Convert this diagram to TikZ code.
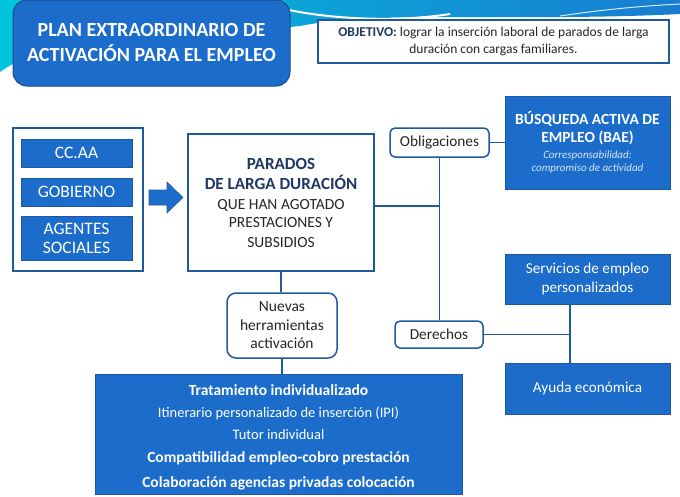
\documentclass[tikz,border=0pt]{standalone}
\usepackage{fontspec}
\setmainfont{Carlito}
\definecolor{boxblue}{HTML}{1C6DCB}
\definecolor{boxedge}{HTML}{2157A0}
\definecolor{linkblue}{HTML}{1F5A9E}
\definecolor{navy}{HTML}{1F3864}
\definecolor{darktxt}{HTML}{262626}
\definecolor{paletxt}{HTML}{D6E4F5}
\definecolor{swcyan}{HTML}{00C4DC}
\tikzset{
  bluebox/.style={draw=boxedge, line width=1pt, fill=boxblue, text=white, align=center, inner sep=0pt},
  whitebox/.style={draw=linkblue, line width=1.5pt, fill=white, align=center, inner sep=0pt},
  pill/.style={draw=linkblue, line width=1.5pt, fill=white, rounded corners=5pt, align=center, inner sep=0pt, text=darktxt},
  link/.style={draw=linkblue, line width=1.8pt}
}
\begin{document}
\begin{tikzpicture}[x=1pt,y=-1pt]
\useasboundingbox (0,0) rectangle (680,496);
% decorative swoosh
\shade[left color=swcyan, right color=boxblue!90!cyan] (0,0) -- (680,0) -- (680,14)
  .. controls (520,22) and (380,10) .. (300,26) .. controls (160,40) and (50,35) .. (0,72) -- cycle;
\draw[white, line width=2pt] (280,8) .. controls (330,20) and (400,22) .. (450,14);
\draw[white!80!cyan, line width=1pt] (560,16) .. controls (600,10) and (640,6) .. (680,4);

% title
\node[bluebox, draw=boxedge!85!black, rounded corners=14pt, minimum width=277, minimum height=86, font=\fontsize{20}{25}\selectfont\bfseries] (title) at (151.5,43) {PLAN EXTRAORDINARIO DE\\ACTIVACIÓN PARA EL EMPLEO};
% objective
\node[whitebox, line width=1.2pt, minimum width=351, minimum height=43, text=darktxt, font=\fontsize{13.5}{17}\selectfont] (obj) at (493.5,41.5) {\textcolor{navy}{\bfseries OBJETIVO:} lograr la inserción laboral de parados de larga\\duración con cargas familiares.};

% left group
\node[whitebox, minimum width=130, minimum height=143] (group) at (78,199.5) {};
\node[bluebox, minimum width=111, minimum height=28, font=\fontsize{17.5}{20}\selectfont] (ccaa) at (76.5,153) {CC.AA};
\node[bluebox, minimum width=111, minimum height=28, font=\fontsize{17.5}{20}\selectfont] (gob) at (76.5,192) {GOBIERNO};
\node[bluebox, minimum width=111, minimum height=44, font=\fontsize{17.5}{19}\selectfont] (agentes) at (76.5,238) {AGENTES\\SOCIALES};

% arrow
\fill[boxblue, draw=boxedge, line width=0.6pt] (149,190) -- (167,190) -- (167,182) -- (183,197.5) -- (167,213) -- (167,205) -- (149,205) -- cycle;

% parados
\node[whitebox, minimum width=186, minimum height=137, text=darktxt, font=\fontsize{15.5}{19.5}\selectfont] (parados) at (281,202.5)
  {{\fontsize{17}{20}\selectfont\bfseries\textcolor{navy}{PARADOS}}\\[1pt]
   {\fontsize{17}{20}\selectfont\bfseries\textcolor{navy}{DE LARGA DURACIÓN}}\\
   QUE HAN AGOTADO\\[-1pt]PRESTACIONES Y\\SUBSIDIOS};

% obligaciones / derechos
\node[pill, minimum width=99, minimum height=29, font=\fontsize{15.3}{17}\selectfont] (oblig) at (439.5,142.5) {Obligaciones};
\node[pill, minimum width=88, minimum height=27, font=\fontsize{15.3}{17}\selectfont] (derechos) at (439,334.5) {Derechos};

% BAE
\node[bluebox, minimum width=165, minimum height=93, font=\fontsize{15.5}{18}\selectfont] (bae) at (587.5,142.5)
  {{\bfseries BÚSQUEDA ACTIVA DE}\\
   {\bfseries EMPLEO (BAE)}\\[-2pt]
   {\fontsize{11}{13}\selectfont\itshape\color{paletxt} Corresponsabilidad:}\\[-5pt]
   {\fontsize{11}{13}\selectfont\itshape\color{paletxt} compromiso de actividad}};

% servicios / ayuda
\node[bluebox, minimum width=165, minimum height=50, font=\fontsize{15.2}{18.5}\selectfont] (serv) at (587.5,279) {Servicios de empleo\\personalizados};
\node[bluebox, minimum width=165, minimum height=51, font=\fontsize{15.2}{18}\selectfont] (ayuda) at (587.5,388.5) {Ayuda económica};

% nuevas
\node[pill, rounded corners=9pt, minimum width=110, minimum height=65, font=\fontsize{15.5}{18.5}\selectfont] (nuevas) at (282,325.5) {Nuevas\\herramientas\\activación};

% bottom box
\node[bluebox, minimum width=367, minimum height=120, font=\fontsize{15.5}{23}\selectfont] (tools) at (278.5,434)
  {\rule{0pt}{18pt}{\bfseries Tratamiento individualizado}\\[-1pt]
   {\fontsize{14.5}{23}\selectfont Itinerario personalizado de inserción (IPI)}\\[-1pt]
   {\fontsize{14.5}{23}\selectfont Tutor individual}\\[0pt]
   {\bfseries Compatibilidad empleo-cobro prestación}\\[2pt]
   {\bfseries Colaboración agencias privadas colocación}};

% connectors
\coordinate (j1) at (440,206);
\coordinate (j2) at (570,337);
\draw[link] (oblig.south) -- (oblig.south |- derechos.north);
\draw[link] (parados.east |- j1) -- (j1);
\draw[link] (oblig.east) -- (oblig.east -| bae.west);
\draw[link] (derechos.east) -- (derechos.east -| j2);
\draw[link] (serv.south -| j2) -- (ayuda.north -| j2);
\draw[link] (parados.south) -- (parados.south |- nuevas.north);
\draw[link] (nuevas.south) -- (nuevas.south |- tools.north);
\end{tikzpicture}
\end{document}
